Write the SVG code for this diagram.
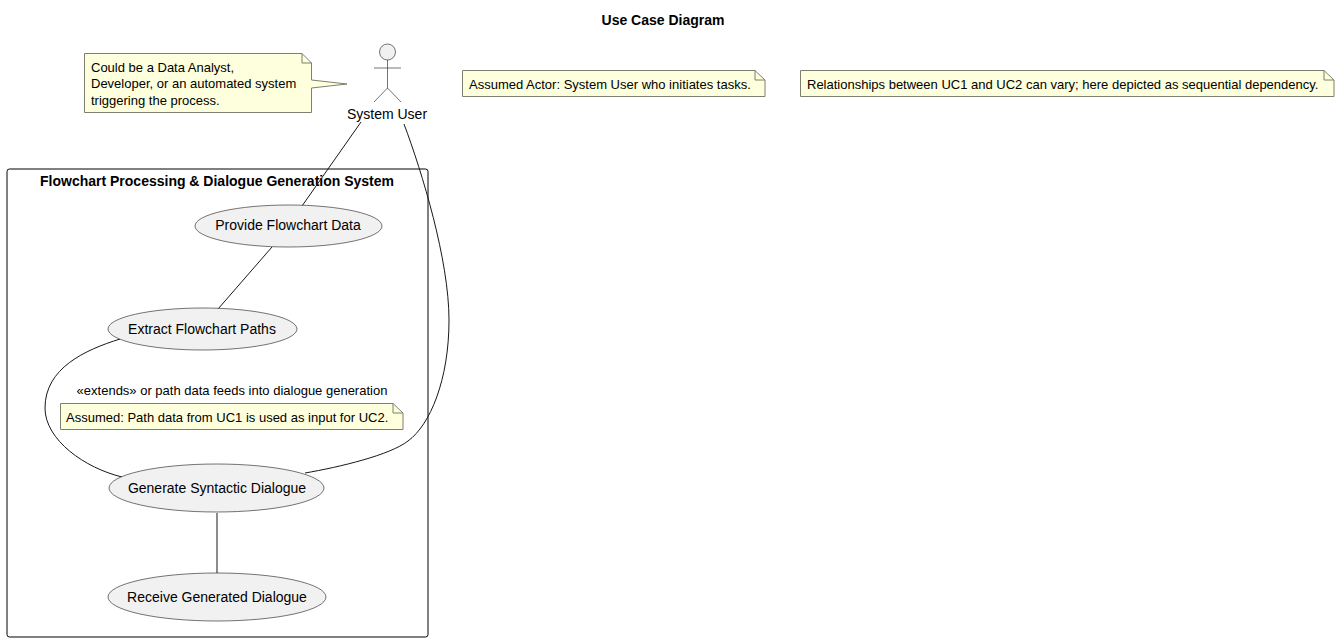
<svg xmlns="http://www.w3.org/2000/svg" width="1339" height="642" viewBox="0 0 1339 642">
<style>
text{font-family:"Liberation Sans",Arial,sans-serif;font-size:13px;fill:#000}
.t{font-weight:bold;font-size:14px}
.l{font-size:14px}
.note{fill:#FEFFDD;stroke:#7f7f6f;stroke-width:1}
.fold{fill:none;stroke:#7f7f6f;stroke-width:1}
.uc{fill:#F1F1F1;stroke:#181818;stroke-width:.6}
.c{fill:none;stroke:#181818;stroke-width:1}
</style>
<rect width="1339" height="642" fill="#fff"/>
<text class="t" x="663" y="25" text-anchor="middle">Use Case Diagram</text>
<g id="system"><rect x="7" y="169" width="421" height="468" rx="2.5" fill="#fff" stroke="#000" stroke-width="1"/>
<text class="t" x="217" y="186" text-anchor="middle">Flowchart Processing &amp; Dialogue Generation System</text></g>
<g id="connectors">
<path class="c" d="M361 122L302 206"/>
<path class="c" d="M272 247L218 309"/>
<path class="c" d="M120 339C85 350 45 368 45 408C45 440 85 468 122 477"/>
<path class="c" d="M404 124C422 172 449 260 449 320C449 380 430 425 408 441C390 455 340 467 305 473"/>
<path class="c" d="M217 513L217 573"/>
</g>
<g id="actor"><circle cx="387.500" cy="52" r="8" fill="#F1F1F1" stroke="#181818" stroke-width=".6"/>
<path d="M387.500 60V88M374 68H401M387.500 88L374 102M387.500 88L401 102" fill="none" stroke="#181818" stroke-width=".6"/>
<text class="l" x="387" y="119" text-anchor="middle">System User</text></g>
<g id="uc1"><ellipse class="uc" cx="288.500" cy="226" rx="93.500" ry="21"/><text class="l" x="288" y="230" text-anchor="middle">Provide Flowchart Data</text></g>
<g id="uc2"><ellipse class="uc" cx="202.500" cy="329" rx="94.500" ry="21"/><text class="l" x="202" y="333.500" text-anchor="middle">Extract Flowchart Paths</text></g>
<g id="uc3"><ellipse class="uc" cx="216.500" cy="488" rx="107.500" ry="24"/><text class="l" x="217" y="493" text-anchor="middle">Generate Syntactic Dialogue</text></g>
<g id="uc4"><ellipse class="uc" cx="217" cy="597" rx="109" ry="24"/><text class="l" x="217" y="602" text-anchor="middle">Receive Generated Dialogue</text></g>
<text x="232" y="395" text-anchor="middle">«extends» or path data feeds into dialogue generation</text>
<g id="note1"><path class="note" d="M84.500 53.500H302L311.500 63V80L347 84L311.500 88V112.500H84.500Z"/><path class="fold" d="M302 53.500V63H311.500"/>
<text x="91" y="72">Could be a Data Analyst,</text><text x="91" y="88">Developer, or an automated system</text><text x="91" y="105">triggering the process.</text></g>
<g id="note2"><path class="note" d="M462.500 70.500H755L765 80V96.500H462.500Z"/><path class="fold" d="M755 70.500V80H765"/><text x="469" y="89">Assumed Actor: System User who initiates tasks.</text></g>
<g id="note3"><path class="note" d="M800.500 70.500H1324L1334 80V96.500H800.500Z"/><path class="fold" d="M1324 70.500V80H1334"/><text x="807" y="89">Relationships between UC1 and UC2 can vary; here depicted as sequential dependency.</text></g>
<g id="note4"><path class="note" d="M60.500 403.500H393L403 413V429.500H60.500Z"/><path class="fold" d="M393 403.500V413H403"/><text x="66" y="422">Assumed: Path data from UC1 is used as input for UC2.</text></g>
</svg>
